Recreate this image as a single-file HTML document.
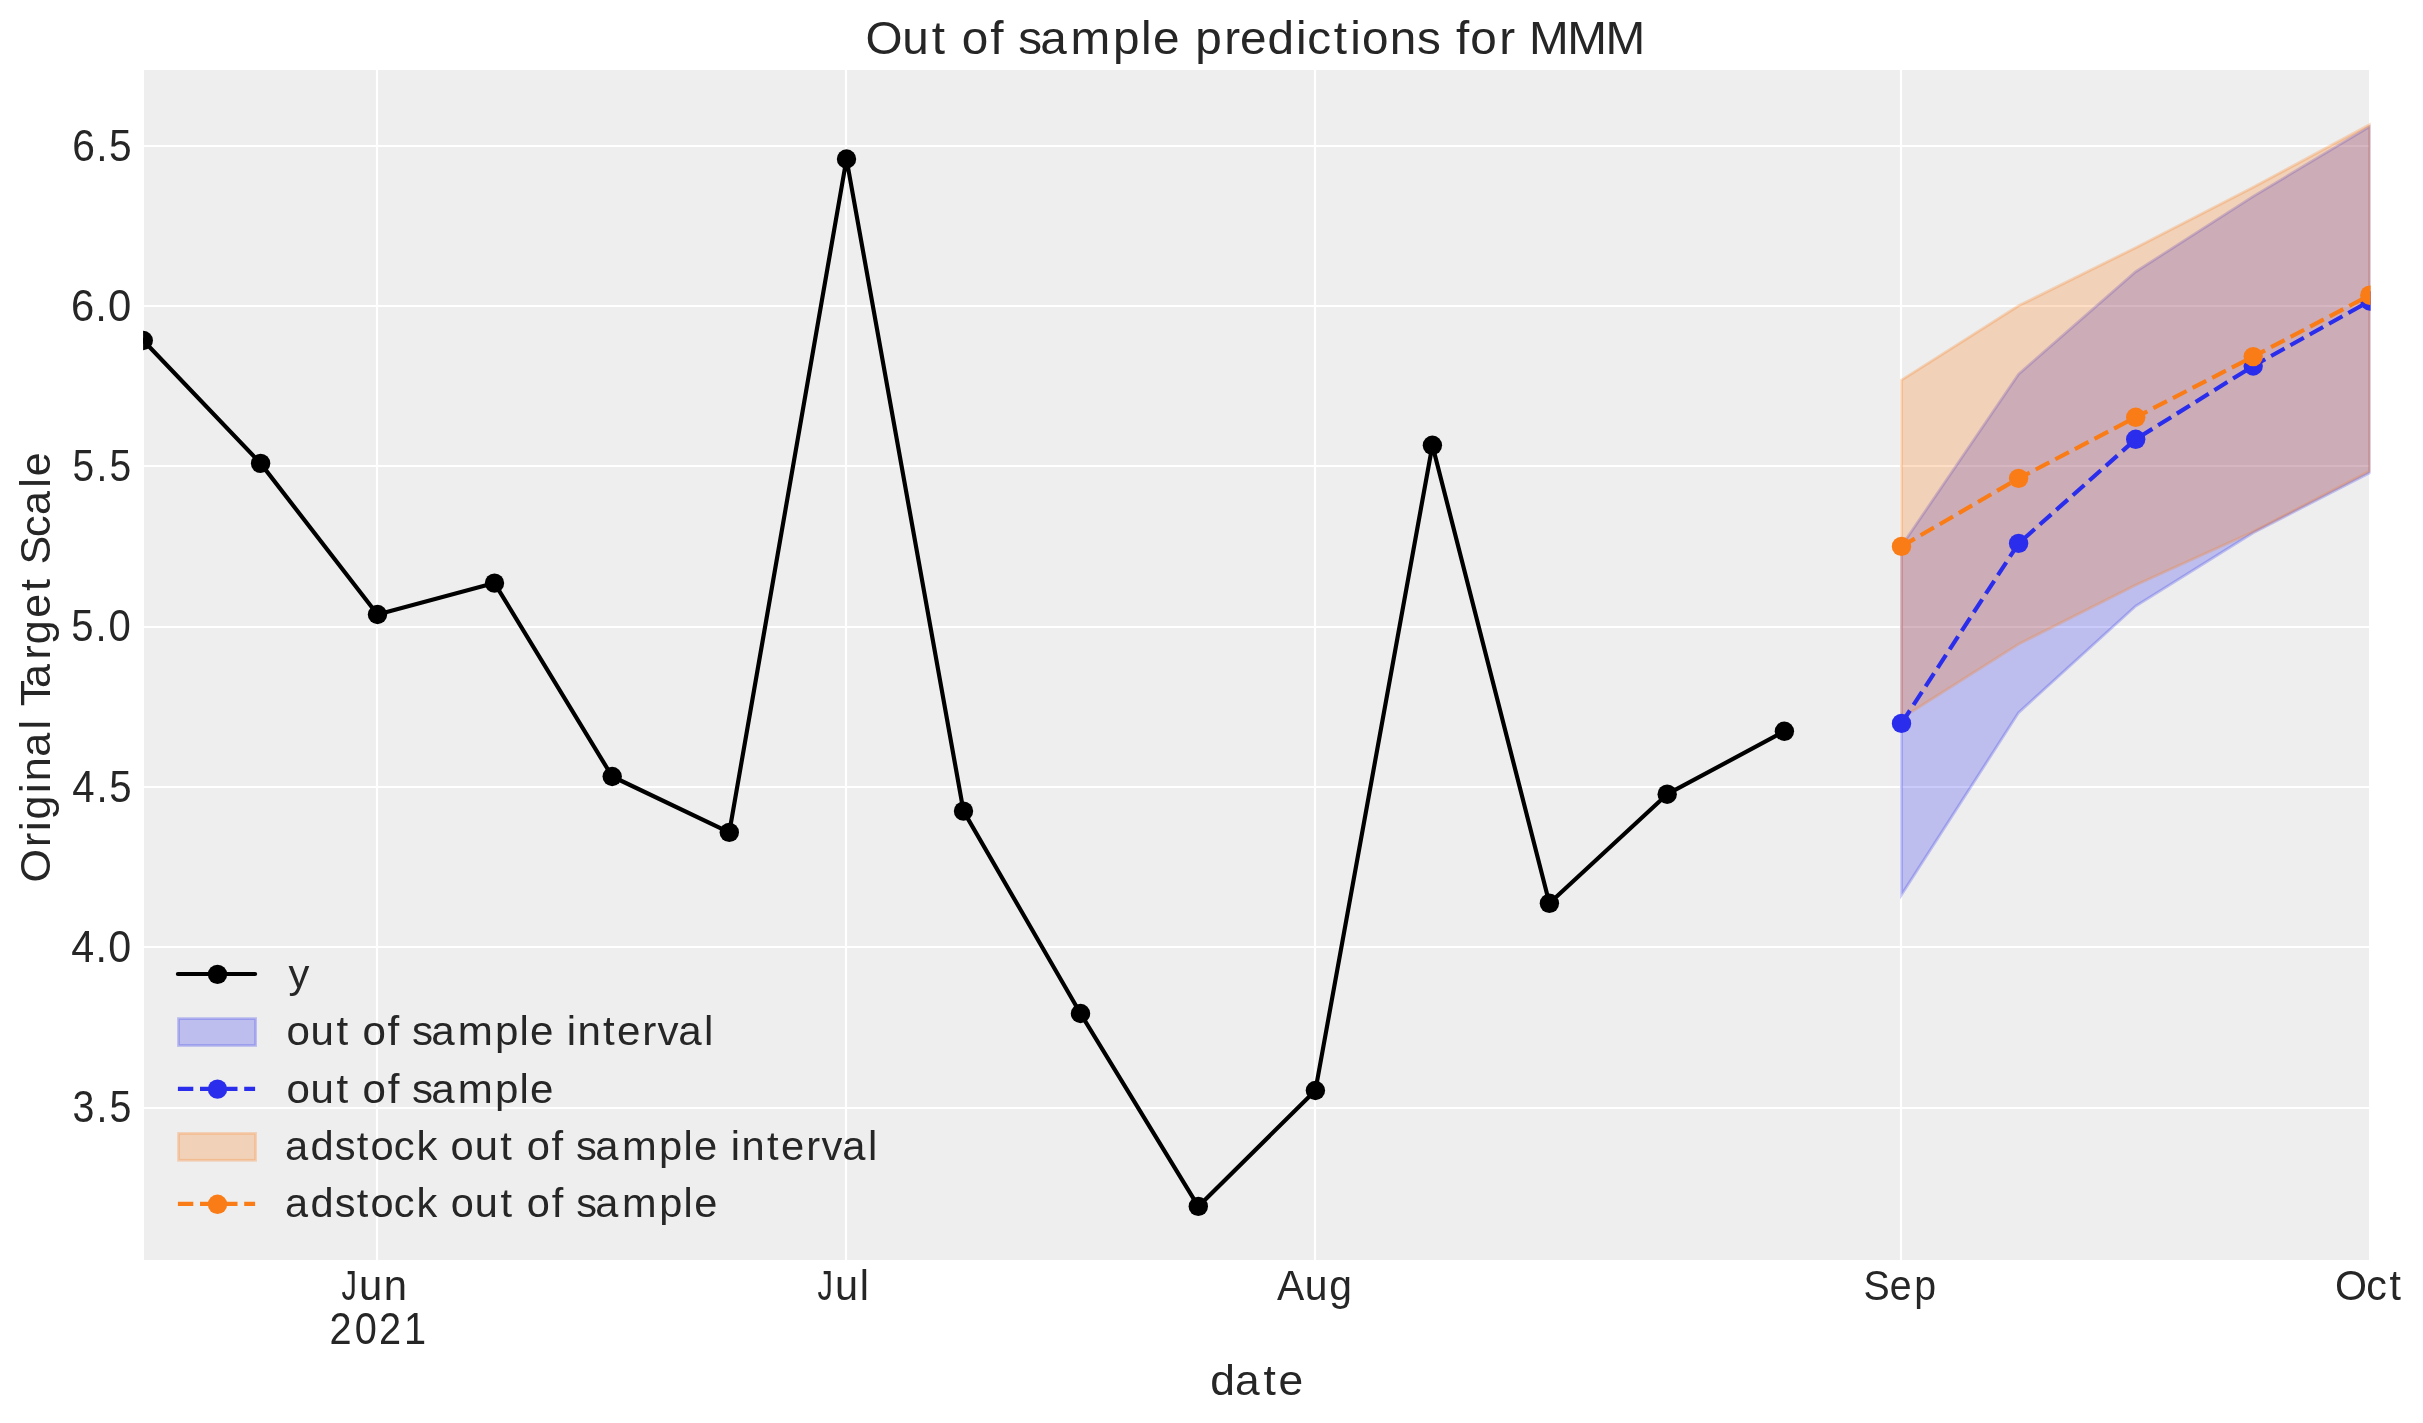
<!DOCTYPE html>
<html><head><meta charset="utf-8"><title>Out of sample predictions for MMM</title>
<style>html,body{margin:0;padding:0;background:#fff;}body{width:2423px;height:1423px;overflow:hidden;}svg{display:block;will-change:transform;}text{font-family:"Liberation Sans",sans-serif;fill:#262626;white-space:pre;}</style></head><body>
<svg width="2423" height="1423" viewBox="0 0 2423 1423">
<defs><clipPath id="c"><rect x="143.1" y="70" width="2227.5" height="1190"/></clipPath></defs>
<rect x="0" y="0" width="2423" height="1423" fill="#fff"/>
<rect x="144" y="70" width="2225" height="1190" fill="#eeeeee"/>
<g stroke="#fff" stroke-width="2.2"><line x1="377" y1="70" x2="377" y2="1260"/><line x1="846" y1="70" x2="846" y2="1260"/><line x1="1315" y1="70" x2="1315" y2="1260"/><line x1="1901" y1="70" x2="1901" y2="1260"/><line x1="144" y1="146" x2="2369" y2="146"/><line x1="144" y1="306" x2="2369" y2="306"/><line x1="144" y1="466" x2="2369" y2="466"/><line x1="144" y1="627" x2="2369" y2="627"/><line x1="144" y1="787" x2="2369" y2="787"/><line x1="144" y1="947" x2="2369" y2="947"/><line x1="144" y1="1108" x2="2369" y2="1108"/></g>
<g clip-path="url(#c)">
<polygon points="1901.5,546.0 2018.6,374.2 2135.7,271.7 2253.2,196.4 2369.8,126.5 2369.8,472.7 2253.2,532.8 2135.7,606.0 2018.6,712.6 1901.5,894.7" fill="#2a2eec" fill-opacity="0.25" stroke="#2a2eec" stroke-opacity="0.25" stroke-width="2.8" stroke-linejoin="miter"/>
<polygon points="1901.5,380.1 2018.6,305.8 2135.7,247.7 2253.2,187.3 2369.8,124.5 2369.8,471.0 2253.2,531.8 2135.7,585.0 2018.6,644.1 1901.5,718.3" fill="#fa7c17" fill-opacity="0.25" stroke="#fa7c17" stroke-opacity="0.25" stroke-width="2.8" stroke-linejoin="miter"/>
<polyline points="143.3,340.5 260.6,463.4 377.5,614.5 494.5,583.1 612.2,776.5 729.3,832.4 846.5,159.0 963.5,811.1 1080.5,1013.5 1198.3,1206.4 1315.4,1090.5 1432.4,445.3 1549.4,903.3 1667.2,794.2 1784.4,731.3" fill="none" stroke="#000" stroke-width="4.17" stroke-linejoin="round" stroke-linecap="square"/>
<g fill="#000"><circle cx="143.3" cy="340.5" r="9.7"/><circle cx="260.6" cy="463.4" r="9.7"/><circle cx="377.5" cy="614.5" r="9.7"/><circle cx="494.5" cy="583.1" r="9.7"/><circle cx="612.2" cy="776.5" r="9.7"/><circle cx="729.3" cy="832.4" r="9.7"/><circle cx="846.5" cy="159.0" r="9.7"/><circle cx="963.5" cy="811.1" r="9.7"/><circle cx="1080.5" cy="1013.5" r="9.7"/><circle cx="1198.3" cy="1206.4" r="9.7"/><circle cx="1315.4" cy="1090.5" r="9.7"/><circle cx="1432.4" cy="445.3" r="9.7"/><circle cx="1549.4" cy="903.3" r="9.7"/><circle cx="1667.2" cy="794.2" r="9.7"/><circle cx="1784.4" cy="731.3" r="9.7"/></g>
<polyline points="1901.5,723.4 2018.6,543.4 2135.7,439.3 2253.2,366.0 2369.8,301.0" fill="none" stroke="#2a2eec" stroke-width="4.17" stroke-dasharray="15.4 6.7"/>
<g fill="#2a2eec"><circle cx="1901.5" cy="723.4" r="9.7"/><circle cx="2018.6" cy="543.4" r="9.7"/><circle cx="2135.7" cy="439.3" r="9.7"/><circle cx="2253.2" cy="366.0" r="9.7"/><circle cx="2369.8" cy="301.0" r="9.7"/></g>
<polyline points="1901.5,546.4 2018.6,478.4 2135.7,417.3 2253.2,356.6 2369.8,295.2" fill="none" stroke="#fa7c17" stroke-width="4.17" stroke-dasharray="15.4 6.7"/>
<g fill="#fa7c17"><circle cx="1901.5" cy="546.4" r="9.7"/><circle cx="2018.6" cy="478.4" r="9.7"/><circle cx="2135.7" cy="417.3" r="9.7"/><circle cx="2253.2" cy="356.6" r="9.7"/><circle cx="2369.8" cy="295.2" r="9.7"/></g>
</g>
<line x1="177.9" y1="974" x2="255.1" y2="974" stroke="#000" stroke-width="4.17" stroke-linecap="round"/><circle cx="217.5" cy="974.35" r="9.7" fill="#000"/>
<rect x="178.5" y="1018.6" width="77.1" height="26.9" fill="#2a2eec" fill-opacity="0.25" stroke="#2a2eec" stroke-opacity="0.25" stroke-width="2.8"/>
<line x1="177.9" y1="1088.8" x2="255.1" y2="1088.8" stroke="#2a2eec" stroke-width="4.17" stroke-dasharray="15.4 6.7"/><circle cx="217.5" cy="1089.15" r="9.7" fill="#2a2eec"/>
<rect x="178.5" y="1133.4" width="77.1" height="26.9" fill="#fa7c17" fill-opacity="0.25" stroke="#fa7c17" stroke-opacity="0.25" stroke-width="2.8"/>
<line x1="177.9" y1="1203.95" x2="255.1" y2="1203.95" stroke="#fa7c17" stroke-width="4.17" stroke-dasharray="15.4 6.7"/><circle cx="217.5" cy="1204.3" r="9.7" fill="#fa7c17"/>
<text transform="translate(0,987.70) scale(1.0351,1)" x="278.65" y="0" font-size="40.3">y</text>
<text transform="translate(0,1045.10) scale(1.0448,1)" x="274.26 297.29 321.97 342.12 347.04 371.00 391.15 394.40 412.70 438.16 473.81 497.27 507.29 527.44 542.43 552.66 577.19 590.55 614.76 629.36 649.23 673.91" y="0" font-size="40.3">out of sample interval</text>
<text transform="translate(0,1102.50) scale(1.0435,1)" x="274.63 297.69 322.39 342.54 347.51 371.49 391.64 394.93 413.26 438.75 474.44 497.93 507.97" y="0" font-size="40.3">out of sample</text>
<text transform="translate(0,1159.90) scale(1.0346,1)" x="275.48 300.14 323.46 344.71 358.15 380.64 402.55 422.70 435.53 458.79 483.65 503.80 509.04 533.18 553.33 556.85 575.35 601.11 637.06 660.69 670.87 691.02 706.29 716.68 741.40 754.95 779.36 794.13 814.21 839.07" y="0" font-size="40.3">adstock out of sample interval</text>
<text transform="translate(0,1217.30) scale(1.0303,1)" x="276.69 301.45 324.86 346.19 359.70 382.28 404.28 424.43 437.40 460.76 485.71 505.86 511.22 535.44 555.59 559.23 577.82 603.70 639.78 663.48 673.73" y="0" font-size="40.3">adstock out of sample</text>
<text transform="translate(0,160.60) scale(0.9251,1)" x="78.02 104.12 117.92" y="0" font-size="44">6.5</text>
<text transform="translate(0,320.88) scale(0.9505,1)" x="74.69 100.26 113.65" y="0" font-size="44">6.0</text>
<text transform="translate(0,481.17) scale(0.8856,1)" x="81.83 109.03 123.73" y="0" font-size="44">5.5</text>
<text transform="translate(0,641.45) scale(0.9109,1)" x="78.27 104.89 119.13" y="0" font-size="44">5.0</text>
<text transform="translate(0,801.73) scale(0.9119,1)" x="79.29 105.71 119.80" y="0" font-size="44">4.5</text>
<text transform="translate(0,962.01) scale(0.9364,1)" x="75.98 101.86 115.55" y="0" font-size="44">4.0</text>
<text transform="translate(0,1122.30) scale(0.8940,1)" x="81.15 107.94 122.44" y="0" font-size="44">3.5</text>
<text transform="translate(0,1299.80) scale(0.7378,1)" x="462.72" y="0" font-size="41.8">J</text><text transform="translate(0,1299.80) scale(1.0003,1)" x="358.89 383.68" y="0" font-size="41.8">un</text>
<text transform="translate(0,1343.60) scale(0.9033,1)" x="364.83 392.73 419.61 447.33" y="0" font-size="44">2021</text>
<text transform="translate(0,1299.80) scale(0.7378,1)" x="1107.94" y="0" font-size="41.8">J</text><text transform="translate(0,1299.80) scale(0.9919,1)" x="841.93 866.85" y="0" font-size="41.8">ul</text>
<text transform="translate(0,1299.80) scale(0.9764,1)" x="1307.82 1336.25 1361.40" y="0" font-size="41.8">Aug</text>
<text transform="translate(0,1299.80) scale(0.9391,1)" x="1984.25 2012.34 2038.39" y="0" font-size="41.8">Sep</text>
<text transform="translate(0,1299.80) scale(0.9848,1)" x="2370.95 2402.73 2426.29" y="0" font-size="41.8">Oct</text>
<text transform="translate(0,1394.60) scale(1.0468,1)" x="1156.18 1179.73 1206.99 1221.38" y="0" font-size="42.4">date</text>
<text transform="translate(0,53.80) scale(1.0318,1)" x="838.90 874.53 903.02 926.12 932.10 959.77 982.87 986.89 1008.09 1037.61 1078.80 1105.88 1117.54 1140.64 1158.30 1186.55 1201.84 1228.41 1256.07 1266.93 1292.70 1308.61 1320.05 1346.88 1373.29 1396.39 1411.15 1425.00 1452.96 1476.06 1481.76 1518.92 1556.09" y="0" font-size="46.2">Out of sample predictions for MMM</text>
<g transform="translate(50,879.7) rotate(-90)"><text transform="translate(0,0.00) scale(1.0162,1)" x="-2.68 32.17 47.87 59.21 85.29 96.90 120.89 147.72 168.92 170.81 188.71 216.77 231.70 257.67 283.99 305.19 310.17 337.33 358.92 385.74 397.11" y="0" font-size="42.4">Original Target Scale</text></g>
</svg></body></html>
